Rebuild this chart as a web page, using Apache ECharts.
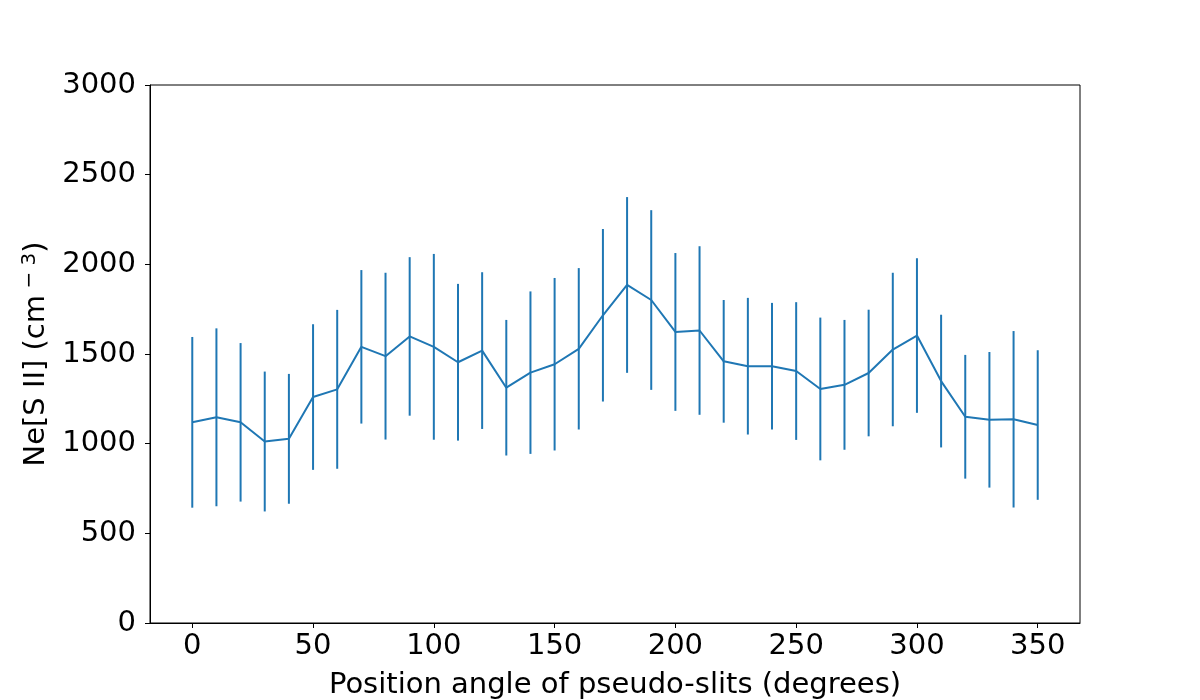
<!DOCTYPE html>
<html>
<head>
<meta charset="utf-8">
<script src="https://cdn.jsdelivr.net/npm/echarts@6/dist/echarts.min.js"></script>
<style>
  html, body { margin: 0; padding: 0; background: #fff; }
  #chart { width: 1200px; height: 700px; }
</style>
</head>
<body>
<div id="chart"></div>
<script>
// position angles (degrees)
const angles = [0, 10, 20, 30, 40, 50, 60, 70, 80, 90, 100, 110, 120, 130, 140, 150, 160, 170,
  180, 190, 200, 210, 220, 230, 240, 250, 260, 270, 280, 290, 300, 310, 320, 330, 340, 350];
// Ne[S II] density, cm^-3
const density = [1119, 1147, 1119, 1012, 1027, 1260, 1303, 1540, 1488, 1598, 1540, 1454, 1519, 1312,
  1396, 1443, 1529, 1716, 1885, 1801, 1623, 1631, 1459, 1432, 1432, 1405, 1305, 1328, 1394,
  1525, 1603, 1349, 1150, 1133, 1136, 1104];
// symmetric errors
const errors = [476, 496, 442, 390, 362, 406, 443, 428, 465, 442, 518, 437, 437, 378,
  453, 481, 450, 481, 490, 501, 440, 470, 342, 381, 353, 384, 398, 362, 353,
  428, 431, 370, 345, 378, 492, 417];
const xTicks = [0, 50, 100, 150, 200, 250, 300, 350];

const color = '#1f77b4';
const font = 'DejaVu Sans';
const fontSize = 29;

const chart = echarts.init(document.getElementById('chart'));

const lineData = angles.map((a, i) => [a, density[i]]);
const errData = angles.map((a, i) => [a, density[i] - errors[i], density[i] + errors[i]]);

chart.setOption({
  animation: false,
  grid: {
    left: 150, right: 120, top: 85, bottom: 77,
    outerBoundsMode: 'none',
    containLabel: false,
    show: true, borderColor: '#000', borderWidth: 1
  },
  xAxis: {
    type: 'value',
    min: -17.5,
    max: 367.5,
    name: 'Position angle of pseudo-slits (degrees)',
    nameLocation: 'middle',
    nameGap: 48,
    nameTextStyle: { fontFamily: font, fontSize: fontSize, color: '#000' },
    axisLine: { show: true, onZero: false, lineStyle: { color: '#000', width: 1 } },
    axisTick: { show: true, length: 5, customValues: xTicks, lineStyle: { color: '#000' } },
    axisLabel: { customValues: xTicks, fontFamily: font, fontSize: fontSize, color: '#000', margin: 9,
      formatter: v => String(v) },
    splitLine: { show: false }
  },
  yAxis: {
    type: 'value',
    min: 0,
    max: 3000,
    interval: 500,
    name: 'Ne[S II] (cm{sup| − 3})',
    nameLocation: 'middle',
    nameGap: 96,
    nameRotate: 90,
    nameTextStyle: {
      fontFamily: font, fontSize: fontSize, color: '#000',
      rich: { sup: { fontFamily: font, fontSize: 20, color: '#000', verticalAlign: 'top', padding: [0, 0, 14, 0] } }
    },
    axisLine: { show: true, onZero: false, lineStyle: { color: '#000', width: 1 } },
    axisTick: { show: true, length: 5, lineStyle: { color: '#000' } },
    axisLabel: { fontFamily: font, fontSize: fontSize, color: '#000', margin: 14,
      formatter: v => String(v) },
    splitLine: { show: false }
  },
  series: [
    {
      type: 'custom',
      data: errData,
      renderItem: function (params, api) {
        const lo = api.coord([api.value(0), api.value(1)]);
        const hi = api.coord([api.value(0), api.value(2)]);
        return {
          type: 'line',
          shape: { x1: lo[0], y1: lo[1], x2: hi[0], y2: hi[1] },
          style: { stroke: color, lineWidth: 2 }
        };
      },
      z: 2
    },
    {
      type: 'line',
      data: lineData,
      showSymbol: false,
      symbol: 'none',
      lineStyle: { color: color, width: 2 },
      z: 3
    }
  ]
});
</script>
</body>
</html>
